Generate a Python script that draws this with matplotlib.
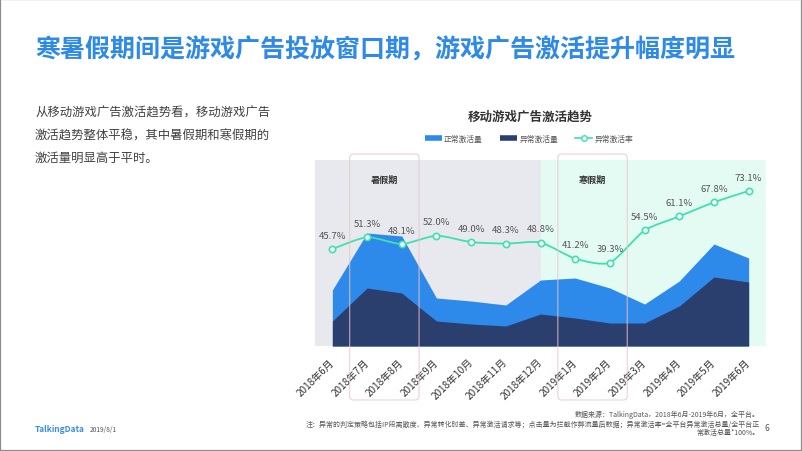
import matplotlib
matplotlib.use("Agg")
import matplotlib.pyplot as plt
from matplotlib.lines import Line2D
from matplotlib.patches import FancyBboxPatch, Rectangle
from matplotlib.path import Path
from matplotlib.patches import PathPatch
import numpy as np

plt.rcParams['font.family'] = ['Noto Sans CJK SC', 'DejaVu Sans']

months = ["2018年6月", "2018年7月", "2018年8月", "2018年9月", "2018年10月", "2018年11月",
          "2018年12月", "2019年1月", "2019年2月", "2019年3月", "2019年4月", "2019年5月", "2019年6月"]
normal = [56, 113, 110, 48, 45, 41, 66, 68, 58, 42, 65, 102, 88]
abnormal = [25, 58, 53, 25, 22, 20, 32, 28, 23, 23, 40, 69, 64]
rate = [45.7, 51.3, 48.1, 52.0, 49.0, 48.3, 48.8, 41.2, 39.3, 54.5, 61.1, 67.8, 73.1]
holidays = [("暑假期", 1, 2), ("寒假期", 7, 8)]

W, H = 802, 452
fig = plt.figure(figsize=(W / 100, H / 100), dpi=100)
fig.patch.set_facecolor("white")

def fx(px):
    return px / W

def fy(py):
    return 1 - py / H

# frame border
fig.add_artist(Rectangle((0, 0), 1, 1, transform=fig.transFigure, fill=False,
                         edgecolor="#8c8c8c", lw=1.6))

# title
fig.text(fx(35), fy(50), "寒暑假期间是游戏广告投放窗口期，游戏广告激活提升幅度明显",
         fontsize=18, fontweight="bold", color="#2d8ae8", ha="left", va="center")

# left paragraph
para = ["从移动游戏广告激活趋势看，移动游戏广告",
        "激活趋势整体平稳，其中暑假期和寒假期的",
        "激活量明显高于平时。"]
for i, line in enumerate(para):
    fig.text(fx(35), fy(113 + i * 22.7), line, fontsize=8.9, color="#404040",
             ha="left", va="center")

# footer
fig.text(fx(35), fy(430), "TalkingData", fontsize=6, color="#3a8ee6", fontweight="bold",
         ha="left", va="center")
fig.text(fx(90), fy(430), "2019/8/1", fontsize=4.8, color="#555555", ha="left", va="center")
fig.text(fx(767), fy(429), "6", fontsize=6, color="#555555", ha="center", va="center")

notes = ["数据来源：TalkingData，2018年6月-2019年6月，全平台。",
         "注：异常的判定策略包括IP段离散度、异常转化时差、异常激活请求等；点击量为拦截作弊流量后数据；异常激活率=全平台异常激活总量/全平台正",
         "常激活总量*100%。"]
for txt, y in zip(notes, [415, 424, 433]):
    fig.text(fx(760), fy(y), txt, fontsize=5.0, color="#555555", ha="right", va="center")

# chart title
fig.text(fx(530), fy(117), "移动游戏广告激活趋势", fontsize=9, fontweight="bold",
         color="#333333", ha="center", va="center")

# axes
left, right, top, bottom = 315, 766, 161, 347
ax = fig.add_axes([fx(left), fy(bottom), fx(right - left), (bottom - top) / H])
x = np.arange(len(months))
ax.set_xlim(-0.5, len(months) - 0.5)
ax.set_ylim(0, 186)
ax.axvspan(-0.5, 6, color="#e8e9ee", lw=0, zorder=0)
ax.axvspan(6, len(months) - 0.5, color="#e4fbf4", lw=0, zorder=0)
ax.fill_between(x, 0, normal, color="#2e8aea", lw=0, zorder=1)
ax.fill_between(x, 0, abnormal, color="#2b3f6e", lw=0, zorder=2)
for s in ax.spines.values():
    s.set_visible(False)
ax.set_yticks([])
ax.set_xticks(x)
ax.set_xticklabels(months, rotation=45, ha="right", va="center", rotation_mode="anchor",
                   fontsize=7.2, color="#333333")
ax.tick_params(axis="x", length=0, pad=10)

ax2 = ax.twinx()
ax2.set_ylim(0, 87.7)
ax2.set_yticks([])
for s in ax2.spines.values():
    s.set_visible(False)
ax2.patch.set_visible(False)

# smooth line through rate points (Catmull-Rom as Bezier rendering)
pts = np.column_stack([x, rate]).astype(float)
verts = [tuple(pts[0])]
codes = [Path.MOVETO]
n = len(pts)
k = 0.7
for i in range(n - 1):
    p0 = pts[i - 1] if i > 0 else pts[i]
    p1 = pts[i]
    p2 = pts[i + 1]
    p3 = pts[i + 2] if i + 2 < n else pts[i + 1]
    c1 = p1 + (p2 - p0) / 6 * k
    c2 = p2 - (p3 - p1) / 6 * k
    verts += [tuple(c1), tuple(c2), tuple(p2)]
    codes += [Path.CURVE4] * 3
line_color = "#3fe0b0"
ax2.add_patch(PathPatch(Path(verts, codes), fill=False, edgecolor=line_color, lw=1.3, zorder=3))
ax2.plot(x, rate, linestyle="none", marker="o", markersize=4.5, markerfacecolor="white",
         markeredgecolor=line_color, markeredgewidth=1.2, zorder=4)
for xi, r in zip(x, rate):
    ax2.annotate(f"{r:.1f}%", (xi, r), xytext=(0, 10), textcoords="offset points",
                 ha="center", va="center", fontsize=6.9, color="#555555", zorder=5)

# holiday boxes
fig.canvas.draw()
for label, a, b in holidays:
    x0 = ax.transData.transform((a - 0.5, 0))[0]
    x1 = ax.transData.transform((b + 0.5, 0))[0]
    y_top = H - 155
    y_bot = H - 401
    box = FancyBboxPatch((x0, y_bot), x1 - x0, y_top - y_bot,
                         boxstyle="round,pad=0,rounding_size=4", transform=None,
                         fill=False, edgecolor="#ecc3c8", lw=0.8, alpha=0.8, zorder=6)
    fig.add_artist(box)
    fig.text(((x0 + x1) / 2) / W, fy(180), label, fontsize=6.6, fontweight="bold",
             color="#333333", ha="center", va="center")

# legend
handles = [Line2D([], [], color="#2e8aea", lw=4, solid_capstyle="butt"),
           Line2D([], [], color="#2b3f6e", lw=4, solid_capstyle="butt"),
           Line2D([], [], color=line_color, lw=1.2, marker="o", markersize=4,
                  markerfacecolor="white", markeredgecolor=line_color)]
fig.legend(handles, ["正常激活量", "异常激活量", "异常激活率"], loc="center",
           bbox_to_anchor=(fx(529), fy(139.5)), ncol=3, frameon=False, fontsize=5.6,
           handlelength=2.2, handletextpad=0.3, columnspacing=2.2, labelcolor="#555555")

fig.savefig("out.png", dpi=100)
